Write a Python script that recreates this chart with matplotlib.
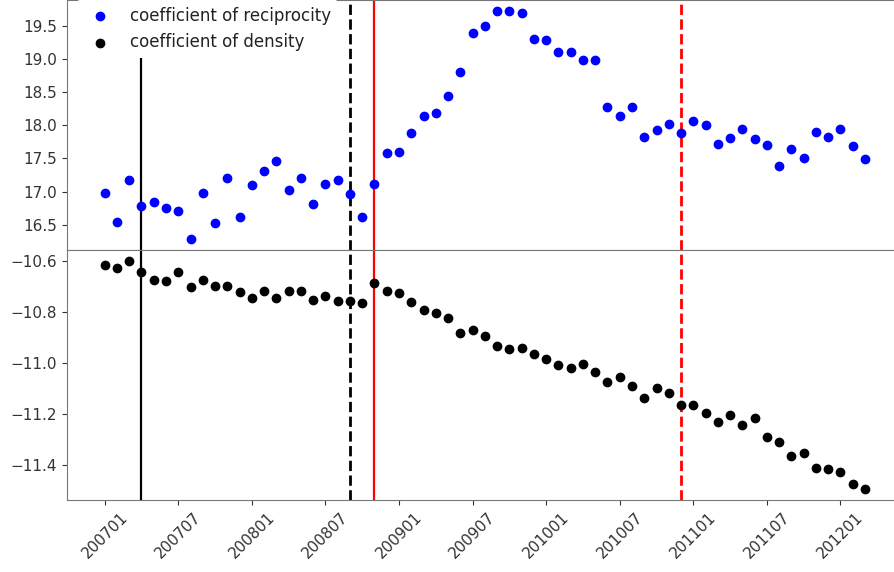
import matplotlib
matplotlib.use("Agg")
import matplotlib.pyplot as plt
import numpy as np

# monthly labels 200701 .. 201203
months = ["%d%02d" % (2007 + i // 12, i % 12 + 1) for i in range(63)]

reciprocity = [16.98, 16.54, 17.17, 16.78, 16.84, 16.75, 16.70, 16.29, 16.98, 16.52,
               17.20, 16.61, 17.10, 17.31, 17.46, 17.03, 17.20, 16.82, 17.12, 17.18,
               16.96, 16.61, 17.12, 17.58, 17.60, 17.89, 18.14, 18.19, 18.45, 18.80,
               19.39, 19.50, 19.72, 19.72, 19.69, 19.30, 19.29, 19.10, 19.10, 18.98,
               18.98, 18.28, 18.14, 18.27, 17.82, 17.93, 18.02, 17.89, 18.07, 18.00,
               17.72, 17.81, 17.95, 17.79, 17.70, 17.39, 17.65, 17.50, 17.90, 17.83,
               17.95, 17.69, 17.49]

density = [-10.613, -10.627, -10.600, -10.642, -10.673, -10.677, -10.642, -10.699, -10.673, -10.695,
           -10.695, -10.722, -10.745, -10.717, -10.745, -10.717, -10.717, -10.750, -10.736, -10.754,
           -10.754, -10.763, -10.686, -10.717, -10.726, -10.759, -10.790, -10.803, -10.821, -10.881,
           -10.871, -10.894, -10.931, -10.945, -10.939, -10.962, -10.984, -11.008, -11.017, -11.003,
           -11.035, -11.072, -11.052, -11.089, -11.134, -11.098, -11.116, -11.165, -11.165, -11.193,
           -11.229, -11.202, -11.242, -11.215, -11.288, -11.310, -11.365, -11.350, -11.410, -11.414,
           -11.427, -11.473, -11.491]

# event months marked with vertical lines
events = ["200704", "200809", "200811", "201012"]
event_styles = [("k", "-"), ("k", "--"), ("r", "-"), ("r", "--")]

x = np.arange(len(months))

fig = plt.figure(figsize=(8.94, 5.72), dpi=100)
ax1 = fig.add_axes([0.0746, 0.5629, 0.9355, 0.4371])
ax2 = fig.add_axes([0.0746, 0.1259, 0.9355, 0.4371], sharex=ax1)

ax1.scatter(x, reciprocity, s=36, color="blue", label="coefficient of reciprocity", zorder=3)
ax1.scatter([], [], s=36, color="black", label="coefficient of density")
ax2.scatter(x, density, s=36, color="black", zorder=3)

for ev, (c, ls) in zip(events, event_styles):
    i = months.index(ev)
    for ax in (ax1, ax2):
        ax.axvline(i, color=c, linestyle=ls, linewidth=2 if ls == "--" else 1.6, zorder=2)

ax1.set_yticks([16.5, 17.0, 17.5, 18.0, 18.5, 19.0, 19.5])
ax2.set_yticks([-10.6, -10.8, -11.0, -11.2, -11.4])
ax2.set_xticks(x[::6])
ax2.set_xticklabels(months[::6], rotation=45)
plt.setp(ax1.get_xticklabels(), visible=False)

for ax in (ax1, ax2):
    ax.tick_params(labelsize=11, colors="#333333")
    for sp in ax.spines.values():
        sp.set_color("#777777")

leg = ax1.legend(loc="upper left", bbox_to_anchor=(0.012, 1.0), borderaxespad=0,
                 fontsize=12, frameon=True, framealpha=1, edgecolor="none",
                 handletextpad=0.8)
for t in leg.get_texts():
    t.set_color("#222222")

fig.savefig("out.png", dpi=100)
